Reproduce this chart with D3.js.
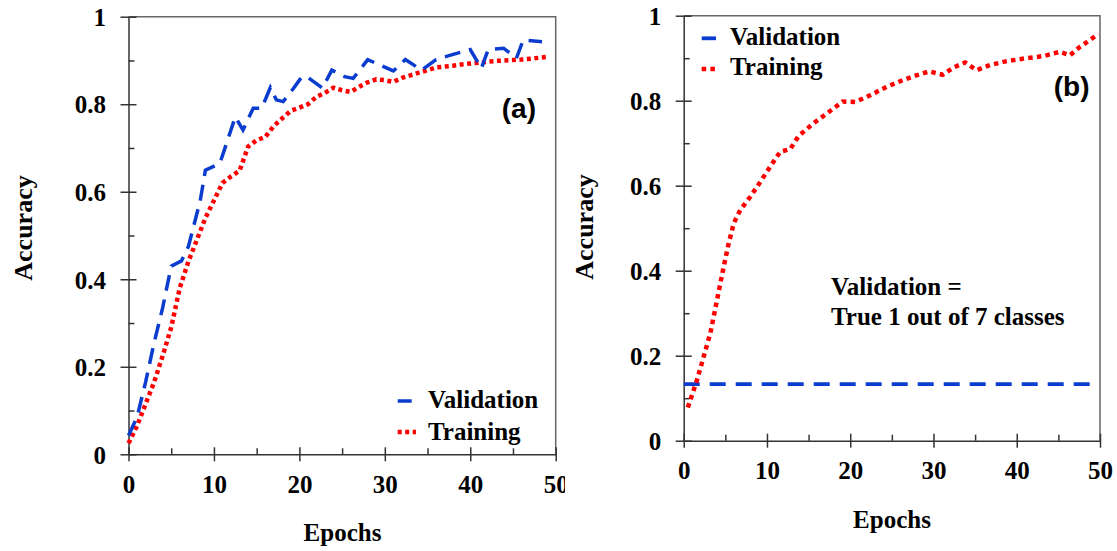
<!DOCTYPE html>
<html>
<head>
<meta charset="utf-8">
<script src="https://cdn.jsdelivr.net/npm/d3@7"></script>
<style>
body { margin: 0; background: #fff; }
svg text { font-family: "Liberation Serif", "Times New Roman", serif; font-weight: bold; fill: #000; }
</style>
</head>
<body>
<svg id="chart" width="1117" height="551"></svg>
<script>
// axis ticks (same on both panels)
var xTicks = [0, 10, 20, 30, 40, 50];
var xMinor = [5, 15, 25, 35, 45];
var yTicks = [0, 0.2, 0.4, 0.6, 0.8, 1];
var yMinor = [0.1, 0.3, 0.5, 0.7, 0.9];
var yTickLabels = ["0", "0.2", "0.4", "0.6", "0.8", "1"];

// panel (a)
var epochsValA = [0, 1, 2, 3, 4, 5, 6.2, 7, 8.4, 9.0, 10.7, 12.5, 13.4, 14.6, 15.6, 16.6, 17.3, 18.1, 19.3, 20.3,
                  21.0, 22.7, 23.8, 25.3, 26.3, 28.0, 29.6, 31.0, 32.4, 34.3, 36.0, 38.0, 40.0, 41.3, 42.1, 43.9, 45.4, 46.2, 48.4];
var valA = [0.043, 0.085, 0.165, 0.255, 0.335, 0.43, 0.442, 0.474, 0.58, 0.649, 0.665, 0.771, 0.741, 0.791, 0.791, 0.838, 0.81, 0.806, 0.836, 0.863,
            0.861, 0.837, 0.878, 0.863, 0.859, 0.902, 0.888, 0.876, 0.902, 0.878, 0.902, 0.914, 0.925, 0.882, 0.925, 0.928, 0.905, 0.947, 0.943];
var epochsTrainA = [0, 1, 2, 3, 4, 5, 6, 7, 8, 9, 10, 11, 12, 13, 14, 15, 16, 17, 18, 19, 20, 21, 22, 23, 24,
                    25, 26, 27, 28, 29, 30, 31, 32, 33, 34, 35, 36, 37, 38, 39, 40, 41, 42, 43, 44, 45, 46, 47, 48, 49];
var trainA = [0.025, 0.065, 0.115, 0.165, 0.225, 0.29, 0.38, 0.44, 0.49, 0.54, 0.58, 0.62, 0.635, 0.648, 0.703, 0.718, 0.725, 0.75, 0.768, 0.785,
              0.792, 0.80, 0.817, 0.826, 0.838, 0.832, 0.828, 0.84, 0.85, 0.857, 0.855, 0.851, 0.86, 0.866, 0.872, 0.878, 0.884, 0.886, 0.888, 0.891,
              0.893, 0.895, 0.897, 0.899, 0.90, 0.901, 0.902, 0.904, 0.906, 0.908];

// panel (b)
var epochsValB = [0, 49.5];
var valB = [0.133, 0.133];
var epochsTrainB = [0.5, 1.6, 2.4, 3.2, 4.0, 4.8, 5.4, 6.0, 6.8, 8, 9.2, 10.4, 11.6, 12.8, 13.8, 15.6, 17.2, 19.1, 20.6, 22.4,
                    24.4, 26.4, 28, 29.5, 31.1, 32.4, 33.8, 35.2, 36.8, 38.8, 41.2, 43.2, 45.2, 46.4, 47.6, 48.8, 49.8];
var trainB = [0.078, 0.143, 0.198, 0.253, 0.331, 0.409, 0.464, 0.511, 0.543, 0.574, 0.609, 0.645, 0.68, 0.686, 0.717, 0.747, 0.77, 0.798, 0.797, 0.813,
              0.833, 0.849, 0.86, 0.869, 0.861, 0.878, 0.89, 0.872, 0.884, 0.893, 0.90, 0.905, 0.915, 0.907, 0.927, 0.943, 0.957];

var BLUE = "#0a3ccf", RED = "#ff0000";
var svg = d3.select("#chart");

function txt(g, x, y, s, size, anchor, rot) {
	var t = g.append("text").attr("font-size", size).attr("text-anchor", anchor || "start").text(s);
	if (rot) t.attr("transform", "translate(" + x + "," + y + ") rotate(" + rot + ")");
	else t.attr("x", x).attr("y", y);
	return t;
}

function drawPanel(box, series, clipW) {
	var g = svg.append("g");
	if (clipW) {
		svg.append("clipPath").attr("id", "clipA").append("rect").attr("x", 0).attr("y", 0).attr("width", clipW).attr("height", 551);
		g.attr("clip-path", "url(#clipA)");
	}
	var x = d3.scaleLinear().domain([0, 50]).range([box.l, box.r]);
	var y = d3.scaleLinear().domain([0, 1]).range([box.b, box.t]);

	// top + right frame
	g.append("path").attr("d", "M" + box.l + "," + box.t + "H" + box.r + "V" + box.b)
		.attr("fill", "none").attr("stroke", "#666").attr("stroke-width", 1.5);

	var ax = g.append("g").attr("transform", "translate(0," + box.b + ")")
		.call(d3.axisBottom(x).tickValues(xTicks).tickSize(7).tickSizeOuter(0).tickFormat(d3.format("d")));
	ax.attr("font-size", 25);
	ax.select(".domain").attr("stroke", "#333").attr("stroke-width", 1.5);
	ax.selectAll(".tick line").attr("y1", -7).attr("stroke", "#333").attr("stroke-width", 1.5);
	ax.selectAll(".tick text").attr("y", box.xlab).attr("dy", null);

	var axm = g.append("g").attr("transform", "translate(0," + box.b + ")")
		.call(d3.axisBottom(x).tickValues(xMinor).tickSize(-6).tickFormat(""));
	axm.select(".domain").remove();
	axm.selectAll(".tick line").attr("stroke", "#333").attr("stroke-width", 1.5);

	var ay = g.append("g").attr("transform", "translate(" + box.l + ",0)")
		.call(d3.axisLeft(y).tickValues(yTicks).tickSize(8).tickSizeOuter(0).tickFormat(function(d, i) { return yTickLabels[i]; }));
	ay.attr("font-size", 25);
	ay.select(".domain").attr("stroke", "#333").attr("stroke-width", 1.5);
	ay.selectAll(".tick line").attr("x1", 8).attr("stroke", "#333").attr("stroke-width", 1.5);
	ay.selectAll(".tick text").attr("x", -22.5).attr("dy", "0.35em");

	var aym = g.append("g").attr("transform", "translate(" + box.l + ",0)")
		.call(d3.axisLeft(y).tickValues(yMinor).tickSize(-6).tickFormat(""));
	aym.select(".domain").remove();
	aym.selectAll(".tick line").attr("stroke", "#333").attr("stroke-width", 1.5);

	var line = d3.line().x(function(d) { return x(d[0]); }).y(function(d) { return y(d[1]); });
	series.forEach(function(s) {
		g.append("path").datum(d3.zip(s.x, s.y)).attr("d", line)
			.attr("fill", "none").attr("stroke", s.color).attr("stroke-width", s.width)
			.attr("stroke-dasharray", s.dash).attr("stroke-linejoin", "miter");
	});
	return g;
}

// ---- panel (a)
var gA = drawPanel({l: 128.5, r: 555.7, t: 16.7, b: 454.3, xlab: 39}, [
	{x: epochsTrainA, y: trainA, color: RED, width: 4.5, dash: "4,3.5"},
	{x: epochsValA, y: valA, color: BLUE, width: 3.5, dash: "16,9"}
], 565);
txt(gA, 31.7, 228, "Accuracy", 26, "middle", -90);
txt(gA, 342.5, 541, "Epochs", 25, "middle");
gA.append("line").attr("x1", 397.7).attr("x2", 411.7).attr("y1", 401).attr("y2", 401).attr("stroke", BLUE).attr("stroke-width", 3.5);
gA.append("line").attr("x1", 397.7).attr("x2", 416).attr("y1", 432).attr("y2", 432).attr("stroke", RED).attr("stroke-width", 4.5).attr("stroke-dasharray", "4,3.5");
txt(gA, 428, 407.5, "Validation", 25);
txt(gA, 428, 439.5, "Training", 25);
txt(gA, 536, 118, "(a)", 28, "end").style("font-family", "'Liberation Sans', Arial, sans-serif");

// ---- panel (b)
var gB = drawPanel({l: 683.7, r: 1100, t: 15.7, b: 440.7, xlab: 38.5}, [
	{x: epochsValB, y: valB, color: BLUE, width: 3.8, dash: "16,10"},
	{x: epochsTrainB, y: trainB, color: RED, width: 4.5, dash: "4.5,4.2"}
]);
txt(gB, 593, 227, "Accuracy", 26, "middle", -90);
txt(gB, 892, 528, "Epochs", 25, "middle");
gB.append("line").attr("x1", 701.7).attr("x2", 716).attr("y1", 38.3).attr("y2", 38.3).attr("stroke", BLUE).attr("stroke-width", 3.8);
gB.append("line").attr("x1", 701.7).attr("x2", 719).attr("y1", 69).attr("y2", 69).attr("stroke", RED).attr("stroke-width", 4.5).attr("stroke-dasharray", "4.5,4.2");
txt(gB, 730, 45, "Validation", 25);
txt(gB, 730, 75, "Training", 25);
txt(gB, 1089.5, 96, "(b)", 28, "end").style("font-family", "'Liberation Sans', Arial, sans-serif");
txt(gB, 831, 295, "Validation =", 25);
txt(gB, 831, 325, "True 1 out of 7 classes", 25);
</script>
</body>
</html>
